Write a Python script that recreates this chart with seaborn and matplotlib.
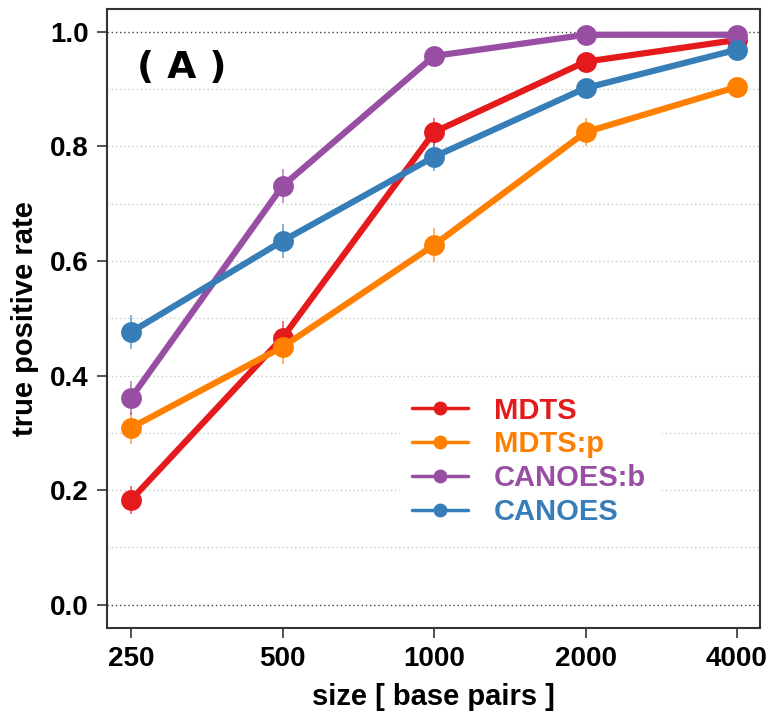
import numpy as np
import pandas as pd
import matplotlib
matplotlib.use("Agg")
import matplotlib.pyplot as plt
from matplotlib.lines import Line2D
import seaborn as sns

sizes = [250, 500, 1000, 2000, 4000]
methods = ["MDTS", "MDTS:p", "CANOES:b", "CANOES"]
mdts = [0.183, 0.466, 0.825, 0.948, 0.986]
mdts_p = [0.309, 0.450, 0.628, 0.825, 0.904]
canoes_b = [0.361, 0.731, 0.958, 0.995, 0.995]
canoes = [0.476, 0.635, 0.782, 0.902, 0.969]
err_mdts = [0.025, 0.03, 0.025, 0.015, 0.01]
err_mdts_p = [0.028, 0.03, 0.03, 0.025, 0.015]
err_canoes_b = [0.03, 0.03, 0.01, 0.006, 0.006]
err_canoes = [0.03, 0.03, 0.025, 0.015, 0.01]
colors = ["#E41A1C", "#FF7F00", "#984EA3", "#377EB8"]
yticks = [0.0, 0.2, 0.4, 0.6, 0.8, 1.0]

values = [mdts, mdts_p, canoes_b, canoes]
errs = [err_mdts, err_mdts_p, err_canoes_b, err_canoes]
df = pd.DataFrame({
    "size": sizes * 4,
    "tpr": sum(values, []),
    "err": sum(errs, []),
    "method": sum([[m] * len(sizes) for m in methods], []),
})

sns.set_style("white")
plt.rcParams["font.family"] = ["Liberation Sans", "DejaVu Sans"]
plt.rcParams["text.color"] = "black"
plt.rcParams["axes.labelcolor"] = "black"
plt.rcParams["xtick.color"] = "black"
plt.rcParams["ytick.color"] = "black"

fig = plt.figure(figsize=(7.7, 7.19), dpi=100)
ax = fig.add_axes([0.139, 0.127, 0.848, 0.8605])

# grid lines
for g in np.arange(0.1, 0.95, 0.1):
    ax.axhline(g, color="#cccccc", lw=1.0, ls=(0, (1, 2)), zorder=0)
for g in [0.0, 1.0]:
    ax.axhline(g, color="#444444", lw=1.0, ls=(0, (1, 2)), zorder=0)

pal = dict(zip(methods, colors))
# error bars
for m, c in zip(methods, colors):
    sub = df[df["method"] == m]
    ax.vlines(sub["size"], sub["tpr"] - sub["err"], sub["tpr"] + sub["err"],
              color=c, lw=1.2, alpha=0.7, zorder=2)

sns.lineplot(data=df, x="size", y="tpr", hue="method", palette=pal,
             hue_order=methods, marker="o", markersize=15, markeredgewidth=0,
             linewidth=4.5, ax=ax, legend=False, zorder=3)

ax.set_xscale("log", base=2)
ax.set_xlim(224, 4443)
ax.set_ylim(-0.04, 1.04)
ax.set_xticks(sizes)
ax.set_xticklabels([str(s) for s in sizes])
ax.minorticks_off()
ax.set_yticks(yticks)
ax.set_yticklabels([f"{t:.1f}" for t in yticks])
ax.tick_params(axis="both", direction="out", length=7, width=1.2, color="#333333",
               labelsize=20, pad=6, bottom=True, left=True, labelcolor="black")
for lab in ax.get_xticklabels() + ax.get_yticklabels():
    lab.set_fontweight("bold")
for sp in ax.spines.values():
    sp.set_visible(True)
    sp.set_color("#333333")
    sp.set_linewidth(1.5)

ax.set_xlabel("size [ base pairs ]", fontsize=21, fontweight="bold", labelpad=8)
ax.set_ylabel("true positive rate", fontsize=21, fontweight="bold", labelpad=8)

ax.text(0.115, 0.905, "( A )", transform=ax.transAxes, fontsize=27,
        fontweight="bold", family=["DejaVu Sans"], ha="center", va="center")

handles = [Line2D([0], [0], color=c, lw=2.5, marker="o", markersize=9) for c in colors]
leg = ax.legend(handles, methods, loc="upper left", bbox_to_anchor=(0.427, 0.416),
                frameon=True, fancybox=False, framealpha=1.0, edgecolor="white",
                facecolor="white", handlelength=1.9, handletextpad=0.9,
                labelspacing=0.2, prop={"size": 21, "weight": "bold",
                                        "family": ["Liberation Sans", "DejaVu Sans"]})
for t, c in zip(leg.get_texts(), colors):
    t.set_color(c)

fig.savefig("out.png", dpi=100)
